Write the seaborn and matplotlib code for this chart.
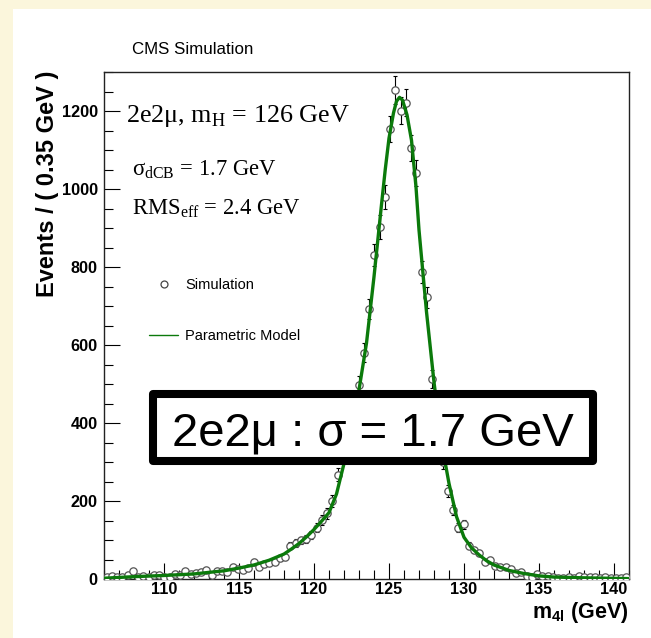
import numpy as np
import pandas as pd
import matplotlib
matplotlib.use("Agg")
import matplotlib.pyplot as plt
import seaborn as sns
from matplotlib.lines import Line2D
from matplotlib.patches import Rectangle
from matplotlib.ticker import MultipleLocator

# simulated 2e2mu events, 100 bins of 0.35 GeV between 106 and 141 GeV
mass_lo, mass_hi, n_bins = 106.0, 141.0, 100
sim_counts = [
    6, 8, 4, 6, 9, 20, 6, 8, 4, 9,
    11, 4, 6, 13, 9, 21, 13, 15, 19, 23,
    11, 21, 20, 19, 30, 26, 23, 28, 44, 32,
    38, 42, 44, 53, 56, 85, 92, 99, 103, 112,
    132, 152, 168, 200, 267, 325, 380, 440, 497, 580,
    692, 831, 903, 980, 1154, 1254, 1201, 1221, 1105, 1041,
    787, 722, 512, 410, 300, 226, 177, 132, 140, 85,
    74, 66, 44, 49, 34, 30, 30, 25, 16, 19,
    8, 6, 13, 8, 8, 4, 2, 2, 4, 2,
    8, 4, 4, 4, 3, 4, 2, 2, 2, 4,
]

# parametric model (double Crystal Ball)
model_mass = [106, 108, 110, 112, 114, 115, 116, 117, 118, 118.5,
              119, 119.5, 120, 120.5, 121, 121.5, 122, 122.5, 123, 123.5,
              124, 124.5, 124.75, 125, 125.3, 125.5, 125.7, 125.9, 126.2, 126.5,
              126.8, 127, 127.5, 128, 128.5, 129, 129.5, 130, 130.5, 131,
              131.5, 132, 133, 134, 135, 136, 138, 141]
model_events = [2, 6, 9, 13, 21, 28, 36, 48, 64, 77,
                91, 108, 127, 148, 170, 218, 296, 385, 485, 605,
                775, 960, 1050, 1130, 1195, 1225, 1235, 1228, 1190, 1125,
                1005, 895, 685, 505, 350, 245, 160, 107, 80, 62,
                47, 36, 22, 14, 8, 5, 3, 1]

xtick_vals = [110, 115, 120, 125, 130, 135, 140]
ytick_vals = [0, 200, 400, 600, 800, 1000, 1200]

green = "#0b7a0b"

sns.set_theme(style="ticks")
plt.rcParams["font.family"] = ["Liberation Sans", "DejaVu Sans"]
plt.rcParams["mathtext.fontset"] = "custom"
plt.rcParams["mathtext.rm"] = "Liberation Serif"
plt.rcParams["mathtext.bf"] = "Liberation Sans:bold"
for key in ["text.color", "axes.labelcolor", "xtick.color", "ytick.color", "axes.edgecolor"]:
    plt.rcParams[key] = "black"

W, H = 651, 638
fx = lambda px: px / W
fy = lambda py: 1 - py / H

fig = plt.figure(figsize=(W / 100, H / 100), dpi=100, facecolor="#fbf6dc")
fig.patches.append(Rectangle((fx(13), 0), 1 - fx(13), fy(9), transform=fig.transFigure,
                             fc="white", ec="none", zorder=-10))
ax = fig.add_axes([fx(104), fy(579), 525 / W, 507 / H])
ax.set_facecolor("white")

edges = np.linspace(mass_lo, mass_hi, n_bins + 1)
df = pd.DataFrame({"m4l": 0.5 * (edges[:-1] + edges[1:]), "events": sim_counts})
df["err"] = np.sqrt(df["events"])

ax.errorbar(df["m4l"], df["events"], yerr=df["err"], fmt="none", ecolor="black",
            elinewidth=0.8, capsize=1.6, capthick=0.8, zorder=2)
sns.scatterplot(data=df, x="m4l", y="events", ax=ax, marker="o", s=28, color="white",
                edgecolor="#555555", linewidth=0.9, zorder=3)
sns.lineplot(x=model_mass, y=model_events, ax=ax, color=green, lw=2.4, zorder=4)

ax.set_xlim(mass_lo, mass_hi)
ax.set_ylim(0, 1300)
ax.set_xlabel("")
ax.set_ylabel("")
ax.set_xticks(xtick_vals, labels=[str(v) for v in xtick_vals], fontweight="bold", fontsize=11.7)
ax.set_yticks(ytick_vals, labels=[str(v) for v in ytick_vals], fontweight="bold", fontsize=11.7)
ax.xaxis.set_minor_locator(MultipleLocator(1))
ax.yaxis.set_minor_locator(MultipleLocator(50))
ax.tick_params(which="both", direction="in", top=False, right=False, width=0.8, color="black")
ax.tick_params(which="major", length=11.5)
ax.tick_params(which="minor", length=6.5)
ax.tick_params(axis="x", pad=2)
ax.tick_params(axis="y", pad=4.5)
for sp in ax.spines.values():
    sp.set_visible(True)
    sp.set_color("#222222")
    sp.set_linewidth(1.0)

handles = [Line2D([], [], ls="none", marker="o", ms=5, mfc="white", mec="#444444", mew=0.9),
           Line2D([], [], color=green, lw=1)]
ax.legend(handles=handles, labels=["Simulation", "Parametric Model"], loc="upper left",
          bbox_to_anchor=(fx(149), fy(278)), bbox_transform=fig.transFigure, frameon=False,
          fontsize=10.5, labelspacing=2.55, handlelength=2.0, handletextpad=0.5,
          borderpad=0, borderaxespad=0)

fig.text(fx(132), fy(54), "CMS Simulation", fontsize=12.2, va="baseline")
fig.text(fx(126), fy(122), "2e2μ, m$_{\\mathrm{H}}$ = 126 GeV", family="Liberation Serif",
         fontsize=18.8, va="baseline")
fig.text(fx(132), fy(175), "σ$_{\\mathrm{dCB}}$ = 1.7 GeV", family="Liberation Serif",
         fontsize=16.3, va="baseline")
fig.text(fx(132), fy(214), "RMS$_{\\mathrm{eff}}$ = 2.4 GeV", family="Liberation Serif",
         fontsize=16.3, va="baseline")

fig.text(fx(48), fy(71), "Events / ( 0.35 GeV )", rotation=90, ha="center", va="top",
         fontweight="bold", fontsize=17)
fig.text(fx(629), fy(618), "m$_{\\mathbf{4l}}$ (GeV)", ha="right", va="baseline",
         fontweight="bold", fontsize=15.5)

# summary box
fig.add_artist(Rectangle((fx(153), fy(461)), 440 / W, 67 / H, transform=fig.transFigure,
                         fc="white", ec="black", lw=5.8, joinstyle="round", zorder=5))
fig.text(fx(373), fy(445), "2e2μ : σ = 1.7 GeV", ha="center", va="baseline",
         fontsize=34, zorder=6)

fig.savefig("out.png", dpi=100, facecolor=fig.get_facecolor())
